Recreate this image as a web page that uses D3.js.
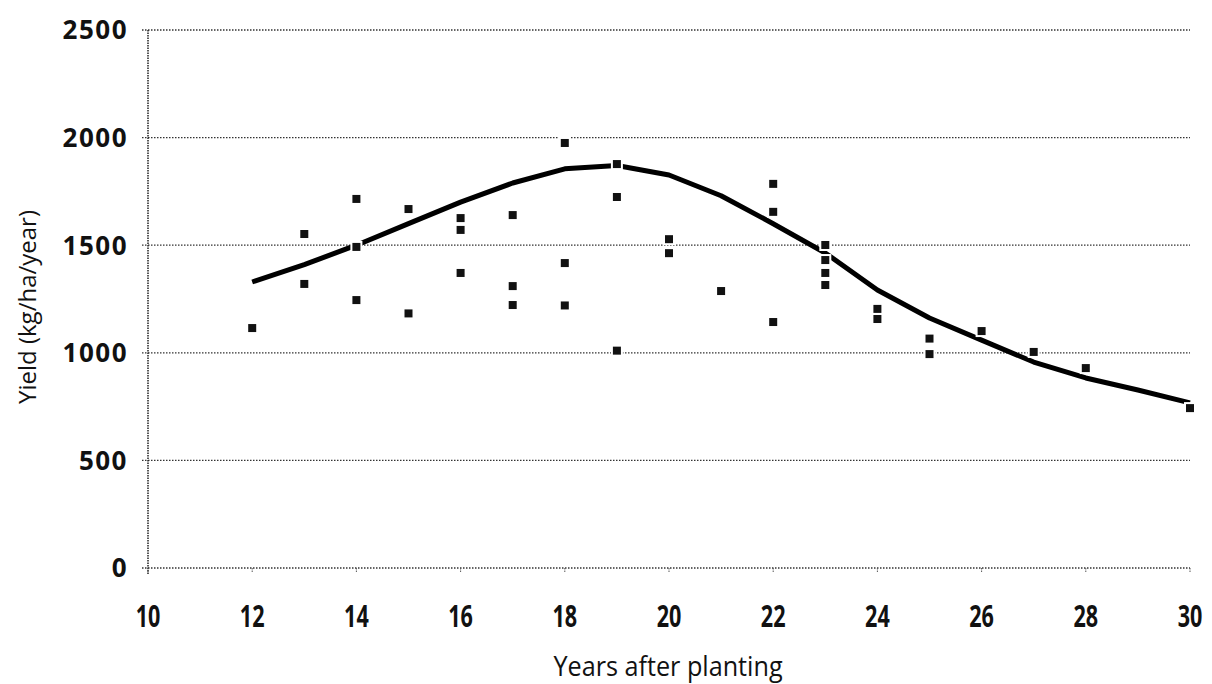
<!DOCTYPE html>
<html>
<head>
<meta charset="utf-8">
<script src="https://cdn.jsdelivr.net/npm/d3@7"></script>
<style>
  body { margin: 0; background: #fff; }
</style>
</head>
<body>
<div id="chart"></div>
<script>
// observed yields (kg/ha/year) by years after planting
const obsYears = [12, 13, 13, 14, 14, 14, 15, 15, 16, 16, 16, 17, 17, 17, 18, 18, 18,
  19, 19, 19, 20, 20, 21, 22, 22, 22, 23, 23, 23, 23, 24, 24, 25, 25, 26, 27, 28, 30]
const obsYield = [1115, 1552, 1320, 1715, 1492, 1245, 1668, 1183, 1626, 1571, 1371, 1640, 1310, 1222, 1975, 1417, 1220,
  1877, 1724, 1010, 1528, 1463, 1287, 1785, 1655, 1143, 1501, 1431, 1371, 1315, 1204, 1157, 1066, 994, 1101, 1004, 929, 743]

// fitted curve
const fitYears = [12, 13, 14, 15, 16, 17, 18, 19, 20, 21, 22, 23, 24, 25, 26, 27, 28, 29, 30]
const fitYield = [1329, 1410, 1500, 1600, 1700, 1789, 1855, 1870, 1826, 1730, 1600, 1464, 1292, 1162, 1059, 957, 883, 827, 767]

const xTicks = [10, 12, 14, 16, 18, 20, 22, 24, 26, 28, 30]
const yTicks = [0, 500, 1000, 1500, 2000, 2500]

const width = 1212
const height = 684
const margin = { top: 30, right: 22, bottom: 116, left: 148 }

const svg = d3.select('#chart').append('svg')
  .attr('width', width)
  .attr('height', height)

const x = d3.scaleLinear().domain([10, 30]).range([margin.left, width - margin.right])
const y = d3.scaleLinear().domain([0, 2500]).range([height - margin.bottom, margin.top])

// horizontal dotted gridlines
svg.append('g')
  .selectAll('line')
  .data(yTicks)
  .join('line')
  .attr('x1', x(10) - 6)
  .attr('x2', x(30))
  .attr('y1', d => y(d))
  .attr('y2', d => y(d))
  .attr('stroke', '#333')
  .attr('stroke-width', 1.3)
  .attr('stroke-dasharray', '1.5,1.5')

// left axis line
svg.append('line')
  .attr('x1', x(10)).attr('x2', x(10))
  .attr('y1', y(2500)).attr('y2', y(0) + 6)
  .attr('stroke', '#222')
  .attr('stroke-width', 1.5)
  .attr('stroke-dasharray', '1.5,1')

// x tick marks
svg.append('g')
  .selectAll('line')
  .data(xTicks)
  .join('line')
  .attr('x1', d => x(d)).attr('x2', d => x(d))
  .attr('y1', y(0)).attr('y2', y(0) + 5)
  .attr('stroke', '#555')
  .attr('stroke-dasharray', '1.5,1')

// y tick labels
svg.append('g')
  .selectAll('text')
  .data(yTicks)
  .join('text')
  .attr('x', 128)
  .attr('y', d => y(d))
  .attr('dy', '0.36em')
  .attr('text-anchor', 'end')
  .attr('font-family', 'Open Sans, sans-serif')
  .attr('font-weight', 700)
  .attr('font-size', 26)
  .attr('letter-spacing', 1.5)
  .attr('fill', '#111')
  .text(d => d)

// x tick labels (condensed look)
svg.append('g')
  .selectAll('text')
  .data(xTicks)
  .join('text')
  .attr('transform', d => `translate(${x(d)}, 627) scale(0.72, 1)`)
  .attr('text-anchor', 'middle')
  .attr('font-family', 'Open Sans, sans-serif')
  .attr('font-weight', 700)
  .attr('font-size', 30)
  .attr('fill', '#111')
  .text(d => d)

// axis titles
svg.append('text')
  .attr('transform', `translate(36, ${(y(0) + y(2500)) / 2 + 8}) rotate(-90)`)
  .attr('text-anchor', 'middle')
  .attr('font-family', 'Open Sans, sans-serif')
  .attr('font-size', 24)
  .attr('fill', '#111')
  .text('Yield (kg/ha/year)')

svg.append('text')
  .attr('transform', 'translate(668, 676) scale(0.9, 1)')
  .attr('text-anchor', 'middle')
  .attr('font-family', 'Open Sans, sans-serif')
  .attr('font-size', 28)
  .attr('fill', '#111')
  .text('Years after planting')

// fitted line
const line = d3.line()
  .x((d, i) => x(fitYears[i]))
  .y(d => y(d))

svg.append('path')
  .datum(fitYield)
  .attr('fill', 'none')
  .attr('stroke', '#000')
  .attr('stroke-width', 5)
  .attr('stroke-linejoin', 'round')
  .attr('d', line)

// observed markers
const size = 10
svg.append('g')
  .selectAll('rect')
  .data(obsYield)
  .join('rect')
  .attr('x', (d, i) => x(obsYears[i]) - size / 2)
  .attr('y', d => y(d) - size / 2)
  .attr('width', size)
  .attr('height', size)
  .attr('fill', '#111')
  .attr('stroke', '#fff')
  .attr('stroke-width', 2)
</script>
</body>
</html>
